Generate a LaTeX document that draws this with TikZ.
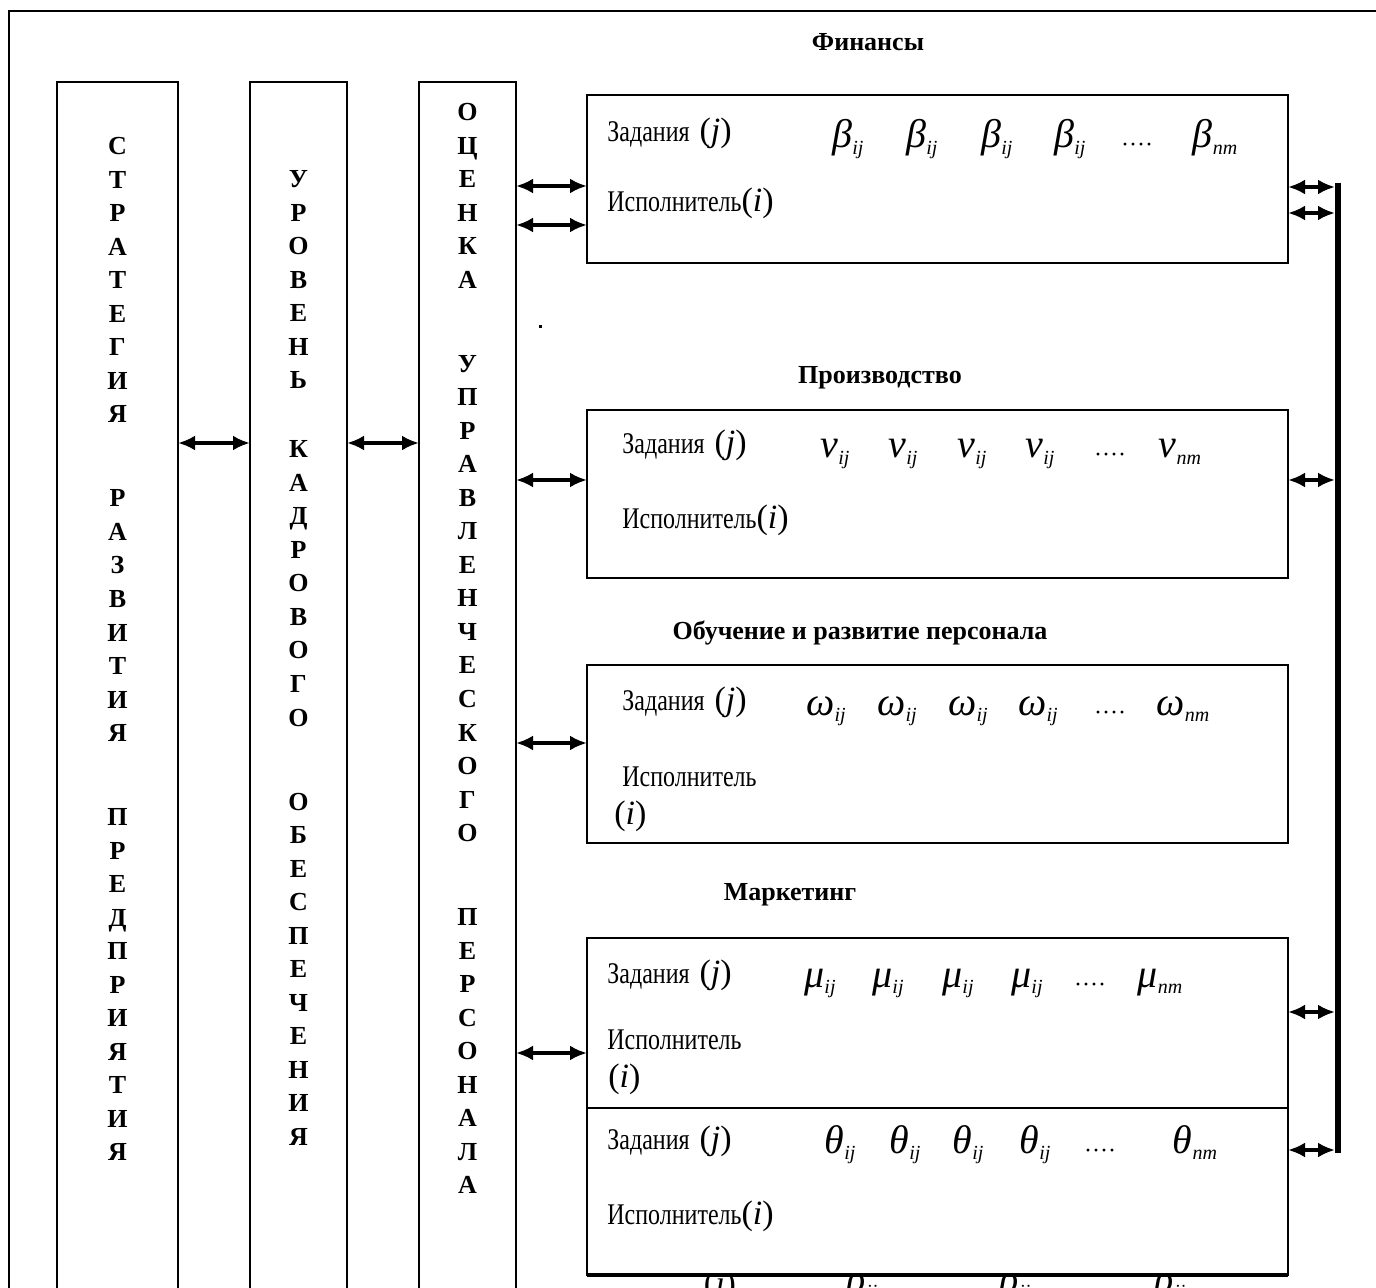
\documentclass[tikz,border=0pt]{standalone}
\usepackage{fontspec}
\setmainfont{Liberation Serif}
\usepackage{graphicx}
\usetikzlibrary{arrows.meta}

\newcommand\cnd[1]{\scalebox{0.8}[1]{#1}}
\newcommand\myJ{{\fontsize{17}{17}\selectfont(\textit{j})}}
\newcommand\myI{{\fontsize{17}{17}\selectfont(\textit{i})}}
\newcommand\gs[2]{{\fontsize{20}{20}\selectfont\itshape #1}\raisebox{-0.7ex}{\fontsize{10}{10}\selectfont\itshape #2}}
\newcommand\mdots{{\fontsize{12}{12}\selectfont ····}}
\newcommand\vword[4]{\foreach \ch [count=\k from 0] in {#4} {\node[colletter] (#1-\k) at ({#2},{#3+33.5*\k}) {\ch};}}

\tikzset{
 colbox/.style={draw, line width=1pt, inner sep=0pt, outer sep=0pt, anchor=north west, minimum height=609pt},
 taskbox/.style={draw, line width=1pt, fill=white, inner sep=0pt, outer sep=0pt, anchor=north west, minimum width=350.5pt},
 colletter/.style={font=\bfseries\fontsize{13}{15}\selectfont, anchor=base, inner sep=0pt},
 title/.style={font=\bfseries\fontsize{13}{15}\selectfont, inner sep=0pt},
 lbl/.style={anchor=base west, inner sep=0pt, font=\fontsize{15}{17}\selectfont},
 sym/.style={anchor=base, inner sep=0pt},
 biarrow/.style={line width=2pt, {Latex[length=8.5pt,width=7.5pt]}-{Latex[length=8.5pt,width=7.5pt]}},
}

\begin{document}
\begin{tikzpicture}[x=0.5pt,y=-0.5pt]
\useasboundingbox (0,0) rectangle (1376,1288);
\clip (0,0) rectangle (1376,1288);

% outer frame
\coordinate (frTR) at (1380,11);
\coordinate (frTL) at (9,11);
\coordinate (frBL) at (9,1300);
\draw[line width=1pt] (frTR) -- (frTL) -- (frBL);

% vertical columns
\node[colbox, minimum width=60.5pt] (col1) at (57,82) {};
\node[colbox, minimum width=48.5pt] (col2) at (250,82) {};
\node[colbox, minimum width=48.5pt] (col3) at (419,82) {};

\vword{ca}{117.5}{155}{С,Т,Р,А,Т,Е,Г,И,Я}
\vword{cb}{117.5}{507}{Р,А,З,В,И,Т,И,Я}
\vword{cc}{117.5}{825.5}{П,Р,Е,Д,П,Р,И,Я,Т,И,Я}

\vword{da}{298.5}{188}{У,Р,О,В,Е,Н,Ь}
\vword{db}{298.5}{458}{К,А,Д,Р,О,В,О,Г,О}
\vword{dc}{298.5}{810}{О,Б,Е,С,П,Е,Ч,Е,Н,И,Я}

\vword{ea}{467.5}{121}{О,Ц,Е,Н,К,А}
\vword{eb}{467.5}{372.5}{У,П,Р,А,В,Л,Е,Н,Ч,Е,С,К,О,Г,О}
\vword{ec}{467.5}{925.5}{П,Е,Р,С,О,Н,А,Л,А}

% arrows between columns
\draw[biarrow] (col1.east |- 0,443) -- (col2.west |- 0,443);
\draw[biarrow] (col2.east |- 0,443) -- (col3.west |- 0,443);

% titles
\node[title] (t1) at (868,42) {Финансы};
\node[title] (t2) at (880,378) {Производство};
\node[title] (t3) at (860,633) {Обучение и развитие персонала};
\node[title] (t4) at (790,895) {Маркетинг};

% small dot
\node[fill, inner sep=0pt, minimum size=1.5pt] (dot) at (540,327) {};

% fragments at the bottom (cut by the page edge)
\node[sym] (fj) at (720,1294) {\myJ};
\node[sym] (fr1) at (862,1292) {\gs{ρ}{ij}};
\node[sym] (fr2) at (1015,1292) {\gs{ρ}{ij}};
\node[sym] (fr3) at (1170,1292) {\gs{ρ}{ij}};

% task boxes
\node[taskbox, minimum height=84pt] (b1) at (587,95) {};
\node[taskbox, minimum height=84pt] (b2) at (587,410) {};
\node[taskbox, minimum height=89pt] (b3) at (587,665) {};
\node[taskbox, minimum height=85pt] (b4) at (587,938) {};
\node[taskbox, minimum height=83.5pt] (b5) at (587,1108) {};
\draw[line width=1.8pt] (b5.south west) -- (b5.south east);

% box 1
\node[lbl] (b1j) at (607,142) {\cnd{Задания}\hspace{5pt}\myJ};
\node[lbl] (b1i) at (607,212) {\cnd{Исполнитель}\myI};
\node[sym] (b1s1) at (848,148) {\gs{β}{ij}};
\node[sym] (b1s2) at (922,148) {\gs{β}{ij}};
\node[sym] (b1s3) at (997,148) {\gs{β}{ij}};
\node[sym] (b1s4) at (1070,148) {\gs{β}{ij}};
\node[sym] (b1d) at (1137,153) {\mdots};
\node[sym] (b1n) at (1215,148) {\gs{β}{nm}};

% box 2
\node[lbl] (b2j) at (622,454) {\cnd{Задания}\hspace{5pt}\myJ};
\node[lbl] (b2i) at (622,529) {\cnd{Исполнитель}\myI};
\node[sym] (b2s1) at (835,458) {\gs{ν}{ij}};
\node[sym] (b2s2) at (903,458) {\gs{ν}{ij}};
\node[sym] (b2s3) at (972,458) {\gs{ν}{ij}};
\node[sym] (b2s4) at (1040,458) {\gs{ν}{ij}};
\node[sym] (b2d) at (1110,463) {\mdots};
\node[sym] (b2n) at (1180,458) {\gs{ν}{nm}};

% box 3
\node[lbl] (b3j) at (622,711) {\cnd{Задания}\hspace{5pt}\myJ};
\node[lbl] (b3i) at (622,786) {\cnd{Исполнитель}};
\node[lbl] (b3ii) at (614,824) {\myI};
\node[sym] (b3s1) at (826,715) {\gs{ω}{ij}};
\node[sym] (b3s2) at (897,715) {\gs{ω}{ij}};
\node[sym] (b3s3) at (968,715) {\gs{ω}{ij}};
\node[sym] (b3s4) at (1038,715) {\gs{ω}{ij}};
\node[sym] (b3d) at (1110,720) {\mdots};
\node[sym] (b3n) at (1183,715) {\gs{ω}{nm}};

% box 4
\node[lbl] (b4j) at (607,983) {\cnd{Задания}\hspace{5pt}\myJ};
\node[lbl] (b4i) at (607,1049) {\cnd{Исполнитель}};
\node[lbl] (b4ii) at (608,1087) {\myI};
\node[sym] (b4s1) at (820,987) {\gs{μ}{ij}};
\node[sym] (b4s2) at (888,987) {\gs{μ}{ij}};
\node[sym] (b4s3) at (958,987) {\gs{μ}{ij}};
\node[sym] (b4s4) at (1027,987) {\gs{μ}{ij}};
\node[sym] (b4d) at (1090,992) {\mdots};
\node[sym] (b4n) at (1160,987) {\gs{μ}{nm}};

% box 5
\node[lbl] (b5j) at (607,1149) {\cnd{Задания}\hspace{5pt}\myJ};
\node[lbl] (b5i) at (607,1224) {\cnd{Исполнитель}\myI};
\node[sym] (b5s1) at (840,1153) {\gs{θ}{ij}};
\node[sym] (b5s2) at (905,1153) {\gs{θ}{ij}};
\node[sym] (b5s3) at (968,1153) {\gs{θ}{ij}};
\node[sym] (b5s4) at (1035,1153) {\gs{θ}{ij}};
\node[sym] (b5d) at (1100,1158) {\mdots};
\node[sym] (b5n) at (1195,1153) {\gs{θ}{nm}};

% arrows from column 3 to boxes
\draw[biarrow] (col3.east |- 0,186) -- (b1.west |- 0,186);
\draw[biarrow] (col3.east |- 0,225) -- (b1.west |- 0,225);
\draw[biarrow] (col3.east |- 0,480) -- (b2.west |- 0,480);
\draw[biarrow] (col3.east |- 0,743) -- (b3.west |- 0,743);
\draw[biarrow] (col3.east |- 0,1053) -- (b4.west |- 0,1053);

% right bus
\coordinate (busT) at (1338,183);
\coordinate (busB) at (1338,1153);
\coordinate (bus) at (1335,183);
\draw[line width=3pt] (busT) -- (busB);
\draw[biarrow] (b1.east |- 0,187) -- (bus |- 0,187);
\draw[biarrow] (b1.east |- 0,213) -- (bus |- 0,213);
\draw[biarrow] (b2.east |- 0,480) -- (bus |- 0,480);
\draw[biarrow] (b4.east |- 0,1012) -- (bus |- 0,1012);
\draw[biarrow] (b5.east |- 0,1150) -- (bus |- 0,1150);
\end{tikzpicture}
\end{document}
